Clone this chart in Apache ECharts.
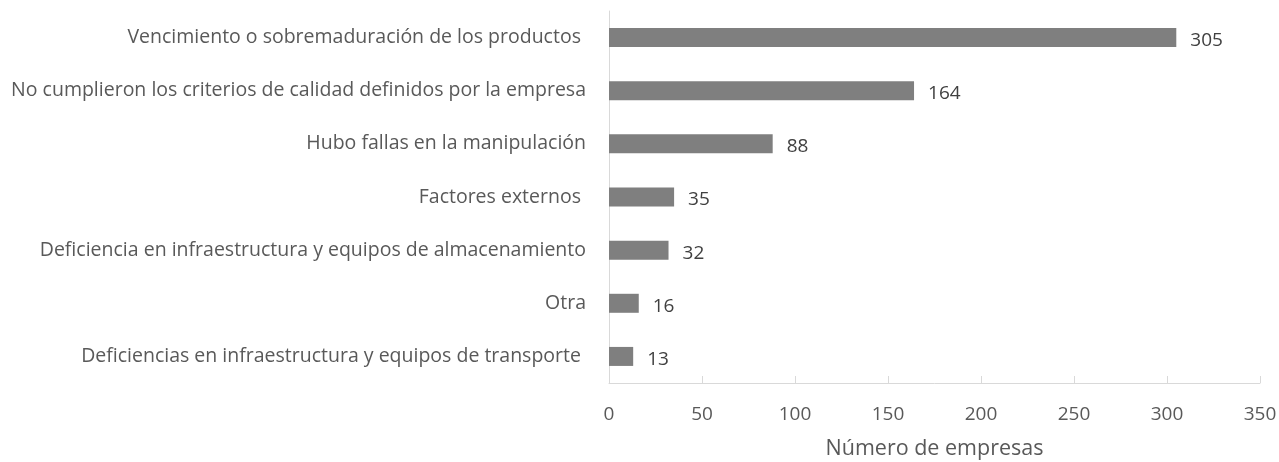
<!DOCTYPE html>
<html>
<head>
<meta charset="utf-8">
<script src="https://cdn.jsdelivr.net/npm/echarts@6/dist/echarts.min.js"></script>
<style>
  html, body { margin: 0; padding: 0; background: #fff; }
  #main { width: 1279px; height: 462px; }
</style>
</head>
<body>
<div id="main"></div>
<script>
// categorias de arriba hacia abajo (eje invertido)
const categorias = [
  "Vencimiento o sobremaduración de los productos ",
  "No cumplieron los criterios de calidad definidos por la empresa",
  "Hubo fallas en la manipulación",
  "Factores externos ",
  "Deficiencia en infraestructura y equipos de almacenamiento",
  "Otra",
  "Deficiencias en infraestructura y equipos de transporte "
];
const empresas = [305, 164, 88, 35, 32, 16, 13];
const ticksX = [0, 50, 100, 150, 200, 250, 300, 350];

let chartDom = document.getElementById("main");
let myChart = echarts.init(chartDom);

const font = "'Open Sans', 'Noto Sans', sans-serif";

let option = {
  animation: false,
  grid: {
    left: 609,
    right: 19,
    top: 11,
    bottom: 79,
    outerBoundsMode: "none",
  },
  xAxis: {
    type: "value",
    min: ticksX[0],
    max: ticksX[ticksX.length - 1],
    interval: 50,
    name: "Número de empresas",
    nameLocation: "middle",
    nameGap: 55,
    nameTextStyle: { color: "#595959", fontSize: 21.5, fontFamily: font },
    axisLine: { show: true, lineStyle: { color: "#d9d9d9", width: 1 } },
    axisTick: { show: true, inside: true, length: 7, lineStyle: { color: "#d9d9d9" } },
    splitLine: { show: false },
    axisLabel: { color: "#595959", fontSize: 19, fontFamily: font, margin: 22 },
  },
  yAxis: {
    type: "category",
    inverse: true,
    data: categorias,
    axisLine: { show: true, lineStyle: { color: "#d9d9d9", width: 1 } },
    axisTick: { show: false },
    axisLabel: { color: "#595959", fontSize: 19.5, fontFamily: font, margin: 23 },
  },
  series: [
    {
      type: "bar",
      data: empresas,
      barWidth: 19,
      itemStyle: { color: "#7f7f7f" },
      label: {
        show: true,
        position: "right",
        distance: 14,
        color: "#404040",
        fontSize: 19,
        fontFamily: font,
        offset: [0, 3],
      },
    },
  ],
};

option && myChart.setOption(option);
</script>
</body>
</html>
